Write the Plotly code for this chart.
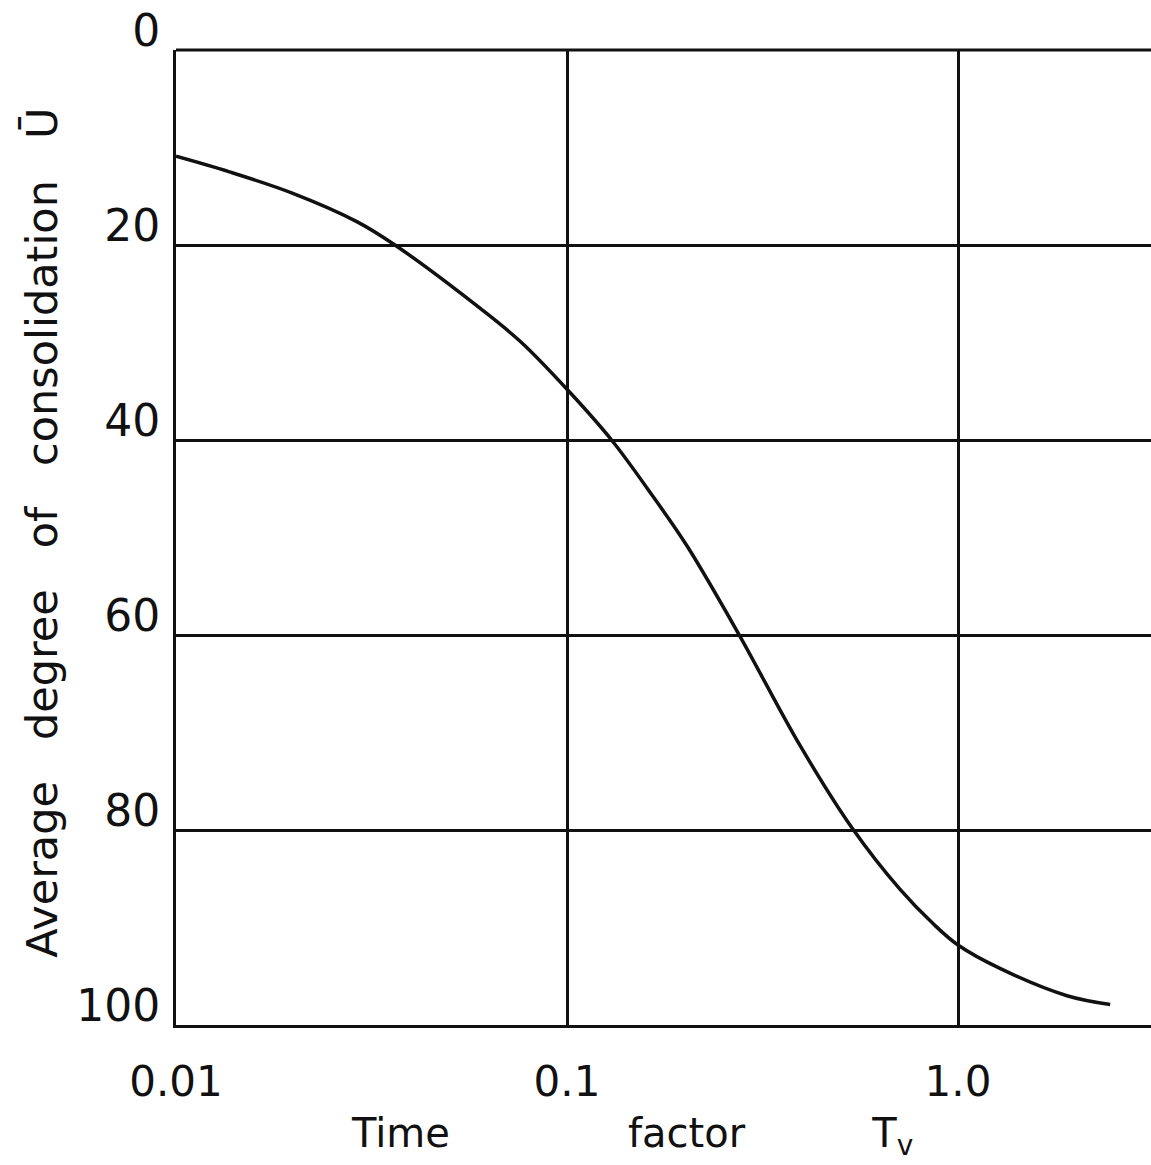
import plotly.graph_objects as go

# Time factor Tv (log scale) and average degree of consolidation U (%)
tv = [0.01, 0.0137, 0.0199, 0.029, 0.0363, 0.06, 0.076, 0.1, 0.13, 0.166,
      0.203, 0.274, 0.394, 0.536, 0.711, 0.863, 1.0, 1.28, 1.9, 2.45]
u = [10.9, 12.5, 14.7, 17.6, 20.0, 26.5, 29.9, 34.8, 40.0, 45.8,
     50.9, 59.8, 71.3, 79.8, 86.1, 89.6, 91.8, 94.2, 97.0, 97.9]

x_tickvals = [0.01, 0.1, 1.0]
x_ticktext = ["0.01", "0.1", "1.0"]
y_tickvals = [0, 20, 40, 60, 80, 100]
y_ticktext = ["0", "20", "40", "60", "80", "100"]

FONT = "DejaVu Sans"
INK = "#111111"

fig = go.Figure()
fig.add_trace(go.Scatter(
    x=tv, y=u, mode="lines",
    line=dict(color=INK, width=3.5, shape="spline", smoothing=1.0),
    showlegend=False, hoverinfo="skip",
))

sp = "\u00a0" * 3
fig.update_layout(
    width=1151, height=1165,
    margin=dict(l=176, r=0, t=50, b=140),
    paper_bgcolor="white", plot_bgcolor="white",
    font=dict(family=FONT, color=INK),
    xaxis=dict(
        type="log", range=[-2, 0.4936],
        tickvals=x_tickvals, ticktext=x_ticktext,
        showgrid=True, gridcolor=INK, gridwidth=2.5,
        showline=True, linecolor=INK, linewidth=3,
        ticks="", ticklabelstandoff=18,
        tickfont=dict(size=42, family=FONT, color=INK),
        zeroline=False,
    ),
    yaxis=dict(
        range=[100, 0],
        tickvals=y_tickvals, ticktext=y_ticktext,
        showgrid=True, gridcolor=INK, gridwidth=2.5,
        showline=True, linecolor=INK, linewidth=3,
        ticks="", ticklabelstandoff=4, ticklabelshift=19,
        tickfont=dict(size=44, family=FONT, color=INK),
        zeroline=False,
    ),
    shapes=[dict(type="line", xref="paper", yref="paper", x0=0, x1=1, y0=1, y1=1,
                 line=dict(color=INK, width=3))],
    annotations=[
        dict(text="Average" + sp + "degree" + sp + "of" + sp + "consolidation" + sp + "Ū",
             xref="paper", yref="paper", x=(42 - 176) / 975, y=0.505,
             xanchor="center", yanchor="middle", textangle=-90, showarrow=False,
             font=dict(size=43, family=FONT, color=INK)),
        dict(text="Time" + "\u00a0" * 14 + "factor" + "\u00a0" * 10 + "T<sub>v</sub>",
             xref="paper", yref="paper", x=(632 - 176) / 975, y=-0.085,
             xanchor="center", yanchor="top", showarrow=False,
             font=dict(size=40, family=FONT, color=INK)),
    ],
)

fig.write_html("out.html")
